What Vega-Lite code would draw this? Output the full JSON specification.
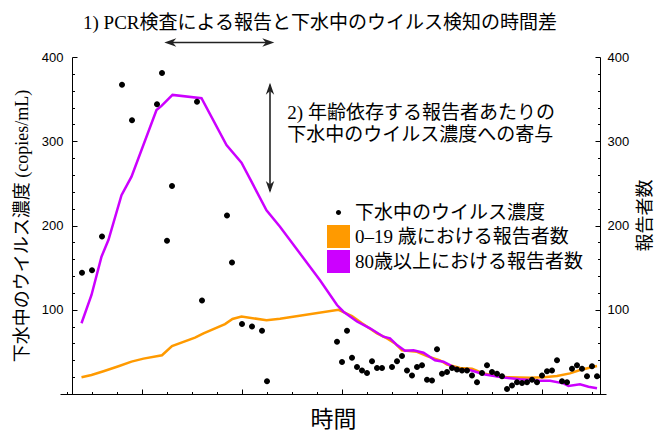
{
  "$schema": "https://vega.github.io/schema/vega-lite/v6.json",
  "width": 546,
  "height": 337,
  "autosize": {"type": "none"},
  "padding": {"left": 60, "top": 57, "right": 60, "bottom": 41},
  "background": "white",
  "config": {
    "view": {"stroke": null},
    "axis": {"grid": false, "domainColor": "black", "tickColor": "black", "labelColor": "black", "titleColor": "black"}
  },
  "datasets": {
    "ww": [
      {"day": 2, "conc": 144}, {"day": 4, "conc": 147}, {"day": 6, "conc": 187}, {"day": 10, "conc": 367},
      {"day": 12, "conc": 325}, {"day": 17, "conc": 344}, {"day": 18, "conc": 381}, {"day": 19, "conc": 182},
      {"day": 20, "conc": 247}, {"day": 25, "conc": 347}, {"day": 26, "conc": 111}, {"day": 31, "conc": 212},
      {"day": 32, "conc": 156}, {"day": 34, "conc": 83}, {"day": 36, "conc": 80}, {"day": 38, "conc": 75},
      {"day": 39, "conc": 15}, {"day": 53, "conc": 62}, {"day": 54, "conc": 38}, {"day": 55, "conc": 75},
      {"day": 56, "conc": 43}, {"day": 57, "conc": 32}, {"day": 58, "conc": 28}, {"day": 59, "conc": 25},
      {"day": 60, "conc": 39}, {"day": 61, "conc": 31}, {"day": 62, "conc": 31}, {"day": 64, "conc": 32},
      {"day": 65, "conc": 39}, {"day": 66, "conc": 45}, {"day": 67, "conc": 28}, {"day": 68, "conc": 22},
      {"day": 69, "conc": 32}, {"day": 70, "conc": 34}, {"day": 71, "conc": 17}, {"day": 72, "conc": 16},
      {"day": 73, "conc": 53}, {"day": 74, "conc": 24}, {"day": 75, "conc": 26}, {"day": 76, "conc": 31},
      {"day": 77, "conc": 29}, {"day": 78, "conc": 28}, {"day": 79, "conc": 28}, {"day": 80, "conc": 22},
      {"day": 81, "conc": 14}, {"day": 82, "conc": 25}, {"day": 83, "conc": 34}, {"day": 84, "conc": 26},
      {"day": 85, "conc": 24}, {"day": 86, "conc": 21}, {"day": 87, "conc": 6}, {"day": 88, "conc": 10},
      {"day": 89, "conc": 14}, {"day": 90, "conc": 13}, {"day": 91, "conc": 14}, {"day": 92, "conc": 17},
      {"day": 93, "conc": 14}, {"day": 94, "conc": 22}, {"day": 95, "conc": 27}, {"day": 96, "conc": 28},
      {"day": 97, "conc": 40}, {"day": 98, "conc": 15}, {"day": 99, "conc": 14}, {"day": 100, "conc": 30},
      {"day": 101, "conc": 34}, {"day": 102, "conc": 30}, {"day": 103, "conc": 21}, {"day": 104, "conc": 33},
      {"day": 105, "conc": 21}
    ],
    "young": [
      {"day": 1.9, "n": 19.8}, {"day": 3.9, "n": 22.5}, {"day": 6.3, "n": 27}, {"day": 9.3, "n": 33},
      {"day": 11.9, "n": 38.4}, {"day": 14.3, "n": 42}, {"day": 18, "n": 46}, {"day": 20, "n": 57},
      {"day": 24.6, "n": 67}, {"day": 26.3, "n": 72}, {"day": 30.6, "n": 83}, {"day": 32.1, "n": 89},
      {"day": 33.9, "n": 92}, {"day": 38.9, "n": 87.5}, {"day": 41.6, "n": 89.4}, {"day": 53.3, "n": 100},
      {"day": 56, "n": 92.6}, {"day": 58, "n": 84}, {"day": 61, "n": 72}, {"day": 63, "n": 66},
      {"day": 64.6, "n": 60}, {"day": 66, "n": 52}, {"day": 69, "n": 50}, {"day": 71, "n": 45},
      {"day": 73.6, "n": 40}, {"day": 75, "n": 35}, {"day": 77.6, "n": 31}, {"day": 80, "n": 30},
      {"day": 82.3, "n": 24.5}, {"day": 85, "n": 21.4}, {"day": 87, "n": 19.8}, {"day": 91.6, "n": 19.4},
      {"day": 94.3, "n": 19.8}, {"day": 97, "n": 21.4}, {"day": 99.6, "n": 24.5}, {"day": 101.6, "n": 28.5},
      {"day": 105, "n": 33.2}
    ],
    "old": [
      {"day": 1.9, "n": 84}, {"day": 3.9, "n": 117.5}, {"day": 5.9, "n": 163}, {"day": 7.3, "n": 183},
      {"day": 9.9, "n": 236}, {"day": 11.9, "n": 258}, {"day": 16.9, "n": 337}, {"day": 17.9, "n": 342},
      {"day": 20.1, "n": 355}, {"day": 25.9, "n": 351}, {"day": 30.9, "n": 295.5}, {"day": 33.9, "n": 274.5},
      {"day": 35.9, "n": 252}, {"day": 38.9, "n": 218}, {"day": 41.6, "n": 198.6}, {"day": 49.6, "n": 135},
      {"day": 53, "n": 105.6}, {"day": 54.3, "n": 97.7}, {"day": 57, "n": 86}, {"day": 59.6, "n": 78},
      {"day": 62.3, "n": 68}, {"day": 63.6, "n": 66}, {"day": 65, "n": 58}, {"day": 66.6, "n": 51.4},
      {"day": 68.3, "n": 52}, {"day": 70.3, "n": 49}, {"day": 72.6, "n": 40}, {"day": 74.3, "n": 38.4},
      {"day": 75.6, "n": 34.4}, {"day": 77.3, "n": 28.5}, {"day": 79.6, "n": 28.5}, {"day": 82.3, "n": 23.4},
      {"day": 86, "n": 19.8}, {"day": 89.6, "n": 17.4}, {"day": 93.6, "n": 15.8}, {"day": 95.6, "n": 15.8},
      {"day": 98.3, "n": 12.6}, {"day": 99.3, "n": 9.5}, {"day": 101.6, "n": 11.5}, {"day": 103.3, "n": 8.7},
      {"day": 105, "n": 6.8}
    ]
  },
  "layer": [
    {
      "data": {"name": "young"},
      "mark": {"type": "line", "color": "#FF9A00", "strokeWidth": 2.5},
      "encoding": {
        "x": {"field": "day", "type": "quantitative", "scale": {"domain": [-2.4, 106.8], "nice": false}, "axis": null},
        "y": {"field": "n", "type": "quantitative", "scale": {"domain": [0, 400], "nice": false},
          "axis": {
            "orient": "right", "offset": -6, "title": "報告者数",
            "titleFont": "Noto Sans CJK JP", "titleFontSize": 18, "titleFontWeight": "normal",
            "titleAngle": 270, "titleBaseline": "top", "titlePadding": 8, "titleY": 158,
            "values": [20, 40, 60, 80, 100, 120, 140, 160, 180, 200, 220, 240, 260, 280, 300, 320, 340, 360, 380, 400],
            "labelExpr": "datum.value % 100 === 0 ? datum.label : ''",
            "labelFont": "Liberation Sans", "labelFontSize": 13, "labelPadding": 12,
            "tickSize": {"condition": {"test": "datum.value % 100 === 0", "value": -5}, "value": -2.5}
          }
        }
      }
    },
    {
      "data": {"name": "old"},
      "mark": {"type": "line", "color": "#CC00FF", "strokeWidth": 2.5},
      "encoding": {
        "x": {"field": "day", "type": "quantitative", "scale": {"domain": [-2.4, 106.8], "nice": false}, "axis": null},
        "y": {"field": "n", "type": "quantitative", "scale": {"domain": [0, 400], "nice": false}, "axis": null}
      }
    },
    {
      "data": {"name": "ww"},
      "transform": [{"calculate": "'下水中のウイルス濃度'", "as": "series"}],
      "mark": {"type": "point", "filled": true, "size": 743, "opacity": 1, "strokeWidth": 0},
      "encoding": {
        "x": {"field": "day", "type": "quantitative", "scale": {"domain": [-2.4, 106.8], "nice": false},
          "axis": {
            "orient": "bottom", "title": "時間",
            "titleFont": "Noto Sans CJK JP", "titleFontSize": 23, "titleFontWeight": "normal", "titlePadding": 14,
            "values": [-1, 4, 9, 14, 19, 24, 29, 34, 39, 44, 49, 54, 59, 64, 69, 74, 79, 84, 89, 94, 99, 104],
            "labels": false,
            "tickSize": {"condition": {"test": "(datum.value - 14) % 20 === 0", "value": -5}, "value": -2.5}
          }
        },
        "y": {"field": "conc", "type": "quantitative", "scale": {"domain": [0, 400], "nice": false},
          "axis": {
            "orient": "left", "offset": -12, "title": "下水中のウイルス濃度 (copies/mL)",
            "titleFont": "Liberation Serif, Noto Sans CJK JP", "titleFontSize": 18, "titleFontWeight": "normal",
            "titlePadding": 10,
            "values": [20, 40, 60, 80, 100, 120, 140, 160, 180, 200, 220, 240, 260, 280, 300, 320, 340, 360, 380, 400],
            "labelExpr": "datum.value % 100 === 0 ? datum.label : ''",
            "labelFont": "Liberation Sans", "labelFontSize": 13, "labelPadding": 14,
            "tickSize": {"condition": {"test": "datum.value % 100 === 0", "value": -5}, "value": -2.5}
          }
        },
        "color": {
          "field": "series", "type": "nominal",
          "scale": {"domain": ["下水中のウイルス濃度", "\u00a0\u00a00–19 歳における報告者数", "80歳以上における報告者数"], "range": ["black", "#FF9A00", "#CC00FF"]},
          "legend": {
            "orient": "none", "legendX": 267, "legendY": 144, "title": null, "padding": 0,
            "rowPadding": 2, "symbolSize": 529, "symbolStrokeWidth": 0,
            "labelFont": "Liberation Serif, Noto Sans CJK JP", "labelFontSize": 19,
            "labelColor": "black", "labelOffset": 5, "labelLimit": 400
          }
        },
        "shape": {
          "field": "series", "type": "nominal",
          "scale": {"domain": ["下水中のウイルス濃度", "\u00a0\u00a00–19 歳における報告者数", "80歳以上における報告者数"], "range": ["M0.22,0A0.22,0.22,0,1,1,-0.22,0A0.22,0.22,0,1,1,0.22,0Z", "square", "square"]}
        }
      }
    },
    {
      "data": {"values": [{}]},
      "mark": {"type": "text", "align": "center", "baseline": "middle", "font": "Liberation Serif, Noto Sans CJK JP", "fontSize": 19, "color": "black"},
      "encoding": {
        "x": {"datum": 49.6, "type": "quantitative", "scale": {"domain": [-2.4, 106.8], "nice": false}, "axis": null},
        "y": {"datum": 440.4, "type": "quantitative", "scale": {"domain": [0, 400], "nice": false}, "axis": null},
        "text": {"value": "1) PCR検査による報告と下水中のウイルス検知の時間差"}
      }
    },
    {
      "data": {"values": [{}]},
      "mark": {"type": "rule", "color": "#222222", "strokeWidth": 1.6},
      "encoding": {
        "x": {"datum": 19.5, "type": "quantitative", "scale": {"domain": [-2.4, 106.8], "nice": false}, "axis": null},
        "x2": {"datum": 39.5},
        "y": {"datum": 417.2, "type": "quantitative", "scale": {"domain": [0, 400], "nice": false}, "axis": null}
      }
    },
    {
      "data": {"values": [{}]},
      "mark": {"type": "rule", "color": "#222222", "strokeWidth": 1.6},
      "encoding": {
        "x": {"datum": 39.6, "type": "quantitative", "scale": {"domain": [-2.4, 106.8], "nice": false}, "axis": null},
        "y": {"datum": 367, "type": "quantitative", "scale": {"domain": [0, 400], "nice": false}, "axis": null},
        "y2": {"datum": 241}
      }
    },
    {
      "data": {"values": [{}]},
      "mark": {"type": "point", "filled": true, "size": 144, "opacity": 1, "color": "#222222", "strokeWidth": 0, "shape": "M0,0L2,-0.7L1.4,0L2,0.7Z"},
      "encoding": {
        "x": {"datum": 18.46, "type": "quantitative", "scale": {"domain": [-2.4, 106.8], "nice": false}, "axis": null},
        "y": {"datum": 417.2, "type": "quantitative", "scale": {"domain": [0, 400], "nice": false}, "axis": null}
      }
    },
    {
      "data": {"values": [{}]},
      "mark": {"type": "point", "filled": true, "size": 144, "opacity": 1, "color": "#222222", "strokeWidth": 0, "shape": "M0,0L-2,-0.7L-1.4,0L-2,0.7Z"},
      "encoding": {
        "x": {"datum": 40.46, "type": "quantitative", "scale": {"domain": [-2.4, 106.8], "nice": false}, "axis": null},
        "y": {"datum": 417.2, "type": "quantitative", "scale": {"domain": [0, 400], "nice": false}, "axis": null}
      }
    },
    {
      "data": {"values": [{}]},
      "mark": {"type": "point", "filled": true, "size": 144, "opacity": 1, "color": "#222222", "strokeWidth": 0, "shape": "M0,0L-0.7,2L0,1.4L0.7,2Z"},
      "encoding": {
        "x": {"datum": 39.6, "type": "quantitative", "scale": {"domain": [-2.4, 106.8], "nice": false}, "axis": null},
        "y": {"datum": 369.5, "type": "quantitative", "scale": {"domain": [0, 400], "nice": false}, "axis": null}
      }
    },
    {
      "data": {"values": [{}]},
      "mark": {"type": "point", "filled": true, "size": 144, "opacity": 1, "color": "#222222", "strokeWidth": 0, "shape": "M0,0L-0.7,-2L0,-1.4L0.7,-2Z"},
      "encoding": {
        "x": {"datum": 39.6, "type": "quantitative", "scale": {"domain": [-2.4, 106.8], "nice": false}, "axis": null},
        "y": {"datum": 238.6, "type": "quantitative", "scale": {"domain": [0, 400], "nice": false}, "axis": null}
      }
    },
    {
      "data": {"values": [{}]},
      "mark": {"type": "text", "align": "left", "baseline": "middle", "font": "Liberation Serif, Noto Sans CJK JP", "fontSize": 19, "color": "black"},
      "encoding": {
        "x": {"datum": 43.06, "type": "quantitative", "scale": {"domain": [-2.4, 106.8], "nice": false}, "axis": null},
        "y": {"datum": 334, "type": "quantitative", "scale": {"domain": [0, 400], "nice": false}, "axis": null},
        "text": {"value": "2) 年齢依存する報告者あたりの"}
      }
    },
    {
      "data": {"values": [{}]},
      "mark": {"type": "text", "align": "left", "baseline": "middle", "font": "Liberation Serif, Noto Sans CJK JP", "fontSize": 19, "color": "black"},
      "encoding": {
        "x": {"datum": 43.06, "type": "quantitative", "scale": {"domain": [-2.4, 106.8], "nice": false}, "axis": null},
        "y": {"datum": 308, "type": "quantitative", "scale": {"domain": [0, 400], "nice": false}, "axis": null},
        "text": {"value": "下水中のウイルス濃度への寄与"}
      }
    }
  ],
  "resolve": {"axis": {"x": "independent", "y": "independent"}}
}
